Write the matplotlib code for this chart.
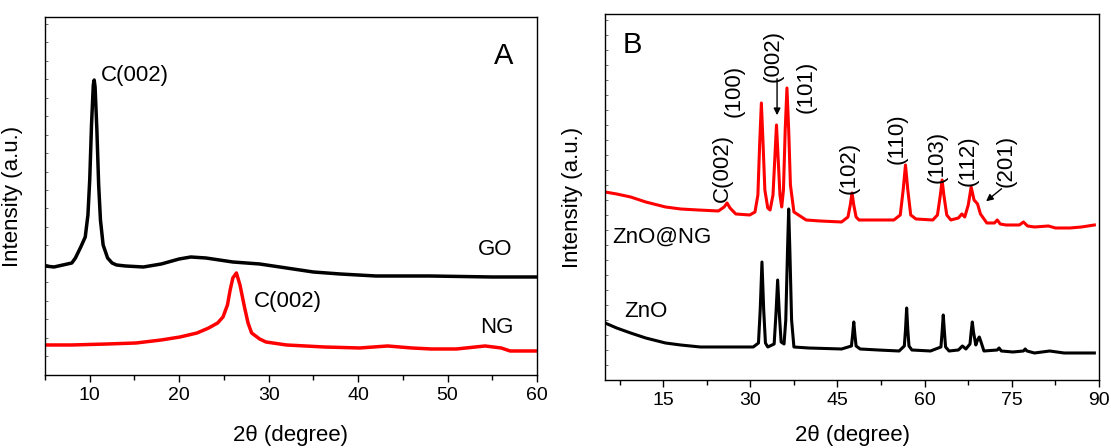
import matplotlib
matplotlib.use("Agg")
import matplotlib.pyplot as plt
from matplotlib.ticker import MultipleLocator

plt.rcParams['font.family'] = ['Liberation Sans', 'DejaVu Sans']

# ---- panel A : GO and NG ----
go_x = [5, 6, 7, 8, 8.4, 9.0, 9.5, 9.8, 10.0, 10.2, 10.4, 10.5, 10.6, 10.8, 11.0, 11.2, 11.5, 12.0,
        12.5, 13, 14, 16, 18, 20, 21.3, 23, 26, 29, 32, 35, 38, 42, 48, 55, 60]
go_y = [109, 108, 110, 112, 117, 128, 138, 160, 195, 250, 290, 295, 288, 245, 190, 155, 130, 117,
        112, 110, 109, 108, 111, 116, 118, 117, 113, 111, 107, 103, 101, 99, 99, 98, 98]

ng_x = [5, 8, 12, 15.2, 18, 20.1, 22, 23.3, 24.3, 24.9, 25.4, 25.7, 26.0, 26.4, 26.8, 27.3, 27.7,
        28.1, 29, 29.7, 32, 36.2, 40.2, 43.3, 46, 48.2, 51, 54.2, 56, 57, 60]
ng_y = [30, 30, 31, 32, 35, 38, 42, 47, 52, 58, 70, 85, 97, 102, 90, 68, 52,
        42, 36, 33, 30, 28, 27, 29, 27, 26, 26, 29, 27, 24, 24]

# ---- panel B : ZnO@NG and ZnO ----
zng_x = [5, 7, 9.4, 12, 15.4, 18, 21, 24.5, 25.5, 26.0, 26.5, 27.5, 29.9,
         30.8, 31.3, 31.6, 31.9, 32.2, 32.5, 33.0, 33.4, 33.9, 34.2, 34.5, 34.8, 35.1, 35.4,
         35.7, 36.0, 36.3, 36.6, 36.9, 37.5, 39.6, 42, 45.7, 46.8, 47.2, 47.5, 47.8, 48.2,
         48.7, 51, 54.7, 55.8, 56.3, 56.7, 57.1, 57.6, 58.5, 61.4, 62.2, 62.7, 63.0, 63.3,
         63.8, 64.5, 65.8, 66.4, 66.9, 67.5, 68.0, 68.5, 69.1, 69.6, 70.7, 72.0, 72.5, 73.0,
         74.0, 76.3, 77.0, 77.7, 78.9, 81.3, 82.5, 85.0, 87, 89.2]
zng_y = [188, 186, 183, 178, 173, 171, 170, 169, 173, 177, 172, 166, 165,
         168, 185, 235, 277, 235, 190, 172, 170, 185, 220, 255, 220, 185, 173,
         190, 250, 292, 250, 195, 168, 160, 159, 158, 163, 175, 187, 175, 163,
         160, 160, 160, 165, 190, 215, 190, 165, 161, 160, 165, 185, 200, 185,
         165, 160, 162, 166, 163, 175, 193, 180, 176, 166, 157, 157, 160, 156,
         155, 155, 158, 154, 153, 154, 152, 152, 153, 155]

zno_x = [5, 7, 9.4, 12, 15.4, 18, 21.4, 25, 30.5, 31.4, 31.7, 32.0, 32.3, 32.6, 33.0, 34.1,
         34.4, 34.7, 35.0, 35.3, 35.8, 36.1, 36.4, 36.6, 36.8, 37.1, 37.5, 40, 45.7, 47.4,
         47.6, 47.8, 48.0, 48.2, 48.9, 52, 55.6, 56.5, 56.7, 56.9, 57.1, 57.3, 57.8, 61,
         62.8, 63.0, 63.2, 63.4, 63.6, 64.2, 65.8, 66.5, 67.1, 67.8, 68.0, 68.2, 68.4, 68.8,
         69.1, 69.4, 69.7, 70.2, 72.5, 72.8, 73.2, 75.2, 77.0, 77.3, 77.6, 78.9, 81.5, 84, 89.2]
zno_y = [57, 52, 47, 42, 37, 35, 33, 33, 33, 37, 70, 118, 70, 37, 33, 36,
         65, 100, 65, 38, 36, 60, 130, 171, 130, 60, 33, 32, 31, 34,
         45, 58, 45, 34, 31, 30, 29, 34, 50, 72, 50, 34, 30, 29,
         33, 48, 65, 48, 33, 29, 30, 34, 31, 36, 48, 58, 48, 35,
         40, 43, 38, 29, 30, 32, 29, 28, 29, 31, 29, 27, 29, 27, 27]

# peak labels for ZnO@NG: text, x, y (vertical text)
hkl_labels = ["(100)", "(002)", "(101)", "(102)", "(110)", "(103)", "(112)", "(201)"]
hkl_x = [27.2, 33.9, 39.6, 47.0, 55.2, 62.1, 67.5, 74.0]
hkl_y = [289, 324, 293, 212, 241, 223, 219, 219]

fig = plt.figure(figsize=(11.11, 4.48), dpi=100)
axA = fig.add_axes([0.0405, 0.163, 0.4428, 0.799])
axB = fig.add_axes([0.5446, 0.1518, 0.4446, 0.817])

axA.plot(go_x, go_y, color='black', lw=2.5)
axA.plot(ng_x, ng_y, color='red', lw=2.5)
axA.set_xlim(5, 60)
axA.set_ylim(0, 358)
axA.xaxis.set_major_locator(MultipleLocator(10))
axA.xaxis.set_minor_locator(MultipleLocator(5))
axA.yaxis.set_major_locator(MultipleLocator(18.5))

axA.text(11.3, 300, "C(002)", fontsize=16, ha='left', va='center')
axA.text(28.3, 73, "C(002)", fontsize=16, ha='left', va='center')
axA.text(53.4, 125, "GO", fontsize=16, ha='left', va='center')
axA.text(53.7, 47, "NG", fontsize=16, ha='left', va='center')
axA.text(0.933, 0.891, "A", fontsize=21, ha='center', va='center', transform=axA.transAxes)

axB.plot(zng_x, zng_y, color='red', lw=2.2)
axB.plot(zno_x, zno_y, color='black', lw=2.2)
axB.set_xlim(5, 90)
axB.set_ylim(0, 366)
axB.xaxis.set_major_locator(MultipleLocator(15))
axB.xaxis.set_minor_locator(MultipleLocator(7.5))
axB.yaxis.set_major_locator(MultipleLocator(15))

axB.text(25.2, 178, "C(002)", fontsize=16, rotation=90, ha='center', va='bottom')
for lab, lx, ly in zip(hkl_labels, hkl_x, hkl_y):
    axB.text(lx, ly, lab, fontsize=16, rotation=90, ha='center', va='center')
axB.annotate("", xy=(34.6, 262), xytext=(34.6, 304),
             arrowprops=dict(arrowstyle='-|>', color='black', lw=1.0, mutation_scale=10))
axB.annotate("", xy=(70.2, 177), xytext=(73.6, 193),
             arrowprops=dict(arrowstyle='-|>', color='black', lw=1.0, mutation_scale=10))
axB.text(6.2, 143, "ZnO@NG", fontsize=16, ha='left', va='center')
axB.text(8.3, 68, "ZnO", fontsize=16, ha='left', va='center')
axB.text(0.055, 0.915, "B", fontsize=21, ha='center', va='center', transform=axB.transAxes)

for ax, ly in [(axA, -0.14), (axB, -0.123)]:
    for sp in ax.spines.values():
        sp.set_linewidth(1.0)
    ax.tick_params(axis='x', which='major', direction='out', length=5, width=1.0, labelsize=14, pad=4)
    ax.tick_params(axis='x', which='minor', direction='out', length=3.5, width=1.0)
    ax.tick_params(axis='y', which='major', direction='in', length=2, width=0.6,
                   color='#555555', labelleft=False)
    ax.set_xlabel("2θ (degree)", fontsize=16)
    ax.set_ylabel("Intensity (a.u.)", fontsize=16)
    ax.xaxis.set_label_coords(0.5, ly)
    ax.yaxis.set_label_coords(-0.045, 0.5)

fig.savefig("out.png", dpi=100)
